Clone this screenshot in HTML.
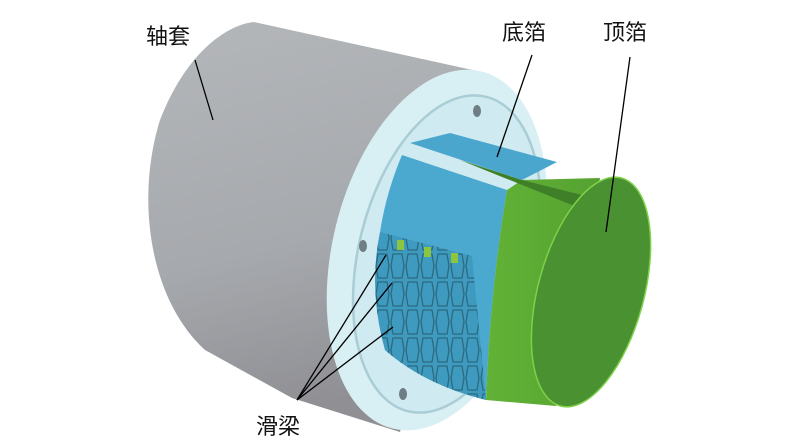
<!DOCTYPE html>
<html><head><meta charset="utf-8"><style>
body{margin:0;background:#fff;}
svg{display:block}
text{font-family:"Liberation Sans","Noto Sans CJK SC",sans-serif;font-size:22px;fill:#111}
</style></head><body>
<svg width="800" height="446" viewBox="0 0 800 446">
<defs>
<linearGradient id="gray" x1="0" y1="0" x2="0.2" y2="1">
<stop offset="0" stop-color="#b4b7ba"/><stop offset="0.6" stop-color="#a6a9ad"/><stop offset="1" stop-color="#8f8f94"/></linearGradient>
<linearGradient id="grn" x1="0" y1="0" x2="1" y2="0">
<stop offset="0" stop-color="#62b236"/><stop offset="1" stop-color="#55a231"/></linearGradient>
<pattern id="mesh" width="15" height="28" patternUnits="userSpaceOnUse">
<path d="M3 2 L12 2 L14 14 L12 26 L3 26 L1 14 Z" fill="none" stroke="#2c6a7e" stroke-width="1.3"/>
</pattern>
<clipPath id="mc"><path d="M380 232 L472 256 L486 400 Q425 385 385 350 Q368 290 380 232 Z"/></clipPath>
</defs>
<path d="M254 22 L486 73 L400 432 L292 398 L205 350 C150 300 135 200 160 120 C185 55 225 25 254 22 Z" fill="url(#gray)"/>
<ellipse cx="437" cy="250" rx="104" ry="184" transform="rotate(14 437 250)" fill="#d8eff3"/>
<ellipse cx="447" cy="254" rx="88" ry="162" transform="rotate(14 447 254)" fill="#cfeaf0" stroke="#a9ccd5" stroke-width="2.5"/>
<ellipse cx="477" cy="111" rx="4" ry="6" fill="#6f7d85"/>
<ellipse cx="363" cy="246" rx="4" ry="6" fill="#6f7d85"/>
<ellipse cx="403" cy="394" rx="4" ry="6" fill="#6f7d85"/>
<path d="M410 143 L450 133 L557 162 L522 180 Z" fill="#4aa6cc"/>
<path d="M402 155 L507 190 Q490 290 486 400 Q425 385 385 350 Q362 250 402 155 Z" fill="#4ba8cf"/>
<path d="M380 232 L472 256 L486 400 Q425 385 385 350 Q368 290 380 232 Z" fill="#3f9ac0"/>
<g clip-path="url(#mc)"><rect x="370" y="230" width="120" height="175" fill="url(#mesh)"/></g>
<rect x="397" y="240" width="7" height="10" fill="#8cc63f"/>
<rect x="424" y="247" width="7" height="10" fill="#8cc63f"/>
<rect x="451" y="253" width="7" height="10" fill="#8cc63f"/>
<path d="M507 190 L522 180 L600 178 L556 406 L486 400 Q490 290 507 190 Z" fill="url(#grn)"/>
<path d="M460 160 L572 205 L586 196 L522 180 Z" fill="#3f7f28"/>
<ellipse cx="591" cy="292" rx="53" ry="118" transform="rotate(15 591 292)" fill="#4a9131" stroke="#7fd14a" stroke-width="1.5"/>
<g stroke="#000" stroke-width="1.3">
<line x1="195" y1="60" x2="213" y2="120"/>
<line x1="532" y1="55" x2="497" y2="157"/>
<line x1="630" y1="57" x2="606" y2="232"/>
<line x1="297" y1="400" x2="386" y2="255"/>
<line x1="297" y1="400" x2="392" y2="283"/>
<line x1="297" y1="400" x2="393" y2="327"/>
</g>
<text x="146" y="44">轴套</text>
<text x="502" y="40">底箔</text>
<text x="603" y="40">顶箔</text>
<text x="256" y="434">滑梁</text>
</svg>
</body></html>
